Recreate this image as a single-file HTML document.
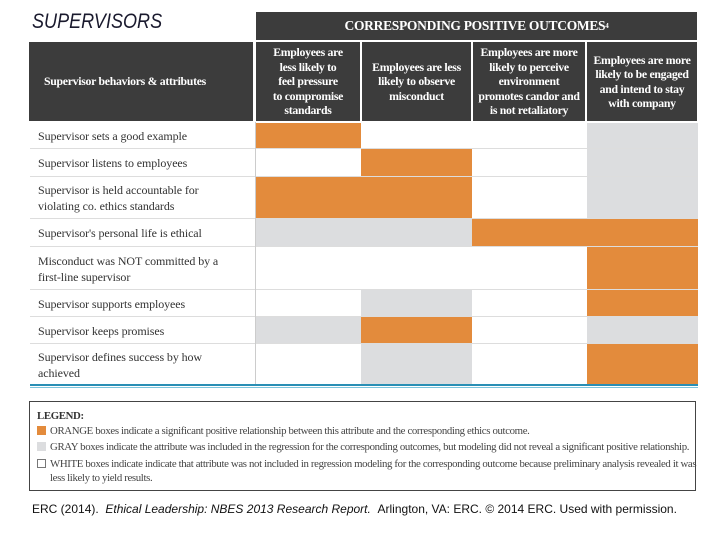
<!DOCTYPE html>
<html><head><meta charset="utf-8"><style>
body{margin:0;width:720px;height:540px;background:#fff;position:relative;overflow:hidden;font-family:"Liberation Serif",serif}
.a{position:absolute}
.hd{background:#3c3c3c;color:#fff;font-weight:bold;display:flex;align-items:center;justify-content:center;text-align:center;font-size:11.8px;line-height:14.5px;letter-spacing:-0.3px}
.rl{position:absolute;left:38px;font-size:12px;color:#333;line-height:16px;letter-spacing:-0.1px}
.lg{position:absolute;left:37px;font-size:10.8px;color:#444;letter-spacing:-0.35px;white-space:nowrap}
.sw{display:inline-block;width:9px;height:9px;vertical-align:-1px;margin-right:4px}
</style></head><body>
<div class="a" style="left:32px;top:10px;font-family:'Liberation Sans',sans-serif;font-style:italic;font-size:21px;color:#1a1a2e;transform:scaleX(0.86);transform-origin:left top">SUPERVISORS</div>
<div class="a hd" style="left:256px;top:12px;width:441px;height:28px;font-size:13.5px">CORRESPONDING POSITIVE OUTCOMES<sup style="font-size:7px">4</sup></div>
<div class="a hd" style="left:29px;top:42px;width:224px;height:79px;justify-content:flex-start;padding-left:15px;box-sizing:border-box">Supervisor behaviors &amp; attributes</div>
<div class="a hd" style="left:256px;top:42px;width:104px;height:79px">Employees are<br>less likely to<br>feel pressure<br>to compromise<br>standards</div>
<div class="a hd" style="left:362px;top:42px;width:109px;height:79px">Employees are less<br>likely to observe<br>misconduct</div>
<div class="a hd" style="left:473px;top:42px;width:112px;height:79px">Employees are more<br>likely to perceive<br>environment<br>promotes candor and<br>is not retaliatory</div>
<div class="a hd" style="left:587px;top:42px;width:110px;height:79px">Employees are more<br>likely to be engaged<br>and intend to stay<br>with company</div>
<div id="grid"></div>
<div class="a" style="left:30px;top:384px;width:668px;height:2px;background:#2a8fb5"></div>
<div class="a" style="left:30px;top:387px;width:668px;height:1px;background:#7cc4dc"></div>
<div class="a" style="left:29px;top:401px;width:667px;height:90px;border:1px solid #444;box-sizing:border-box"></div>
<div class="lg" style="top:410px;font-weight:bold;color:#333">LEGEND:</div>
<div class="lg" style="top:425px"><span class="sw" style="background:#e38b3c"></span>ORANGE boxes indicate a significant positive relationship between this attribute and the corresponding ethics outcome.</div>
<div class="lg" style="top:441px"><span class="sw" style="background:#dcdddf"></span>GRAY boxes indicate the attribute was included in the regression for the corresponding outcomes, but modeling did not reveal a significant positive relationship.</div>
<div class="lg" style="top:457px;line-height:14px"><span class="sw" style="border:1px solid #777;box-sizing:border-box"></span>WHITE boxes indicate indicate that attribute was not included in regression modeling for the corresponding outcome because preliminary analysis revealed it was<br><span style="padding-left:13px">less likely to yield results.</span></div>
<div class="a" style="left:32px;top:502px;font-family:'Liberation Sans',sans-serif;font-size:12px;color:#111;white-space:nowrap">ERC (2014). &nbsp;<i>Ethical Leadership: NBES 2013 Research Report.</i> &nbsp;Arlington, VA: ERC. © 2014 ERC. Used with permission.</div>
<script>
const rowLabels=["Supervisor sets a good example","Supervisor listens to employees","Supervisor is held accountable for<br>violating co. ethics standards","Supervisor's personal life is ethical","Misconduct was NOT committed by a<br>first-line supervisor","Supervisor supports employees","Supervisor keeps promises","Supervisor defines success by how<br>achieved"];
const rowTops=[123,149,177,219,247,290,317,344,385];
const colEdges=[256,361,472,587,698];
// O = orange (significant), G = gray (not significant), W = not included
const cellStatus=[
 ["O","W","W","G"],
 ["W","O","W","G"],
 ["O","O","W","G"],
 ["G","G","O","O"],
 ["W","W","W","O"],
 ["W","G","W","O"],
 ["G","O","W","G"],
 ["W","G","W","O"]];
const colors={O:"#e38b3c",G:"#dcdddf",W:"#ffffff"};
const g=document.getElementById('grid');
rowLabels.forEach((lab,r)=>{
  const y0=rowTops[r],y1=rowTops[r+1];
  const l=document.createElement('div');
  l.className='rl';
  
  
  l.style.top=(y0+(y1-y0)/2-(lab.includes('<br>')?16:8))+'px';
  l.innerHTML=lab;g.appendChild(l);
  if(r>0){const s=document.createElement('div');s.className='a';
    
    
    s.style.cssText=`left:30px;top:${y0-1}px;width:668px;height:1px;background:#ddd`;g.appendChild(s);}
  cellStatus[r].forEach((st,c)=>{
    const d=document.createElement('div');d.className='a';
    
    
    d.style.cssText=`left:${colEdges[c]}px;top:${y0}px;width:${colEdges[c+1]-colEdges[c]}px;height:${y1-y0}px;background:${colors[st]}`;
    g.appendChild(d);
  });
});
const v=document.createElement('div');v.className='a';


v.style.cssText='left:255px;top:122px;width:1px;height:263px;background:#ccc';g.appendChild(v);
</script>
</body></html>
